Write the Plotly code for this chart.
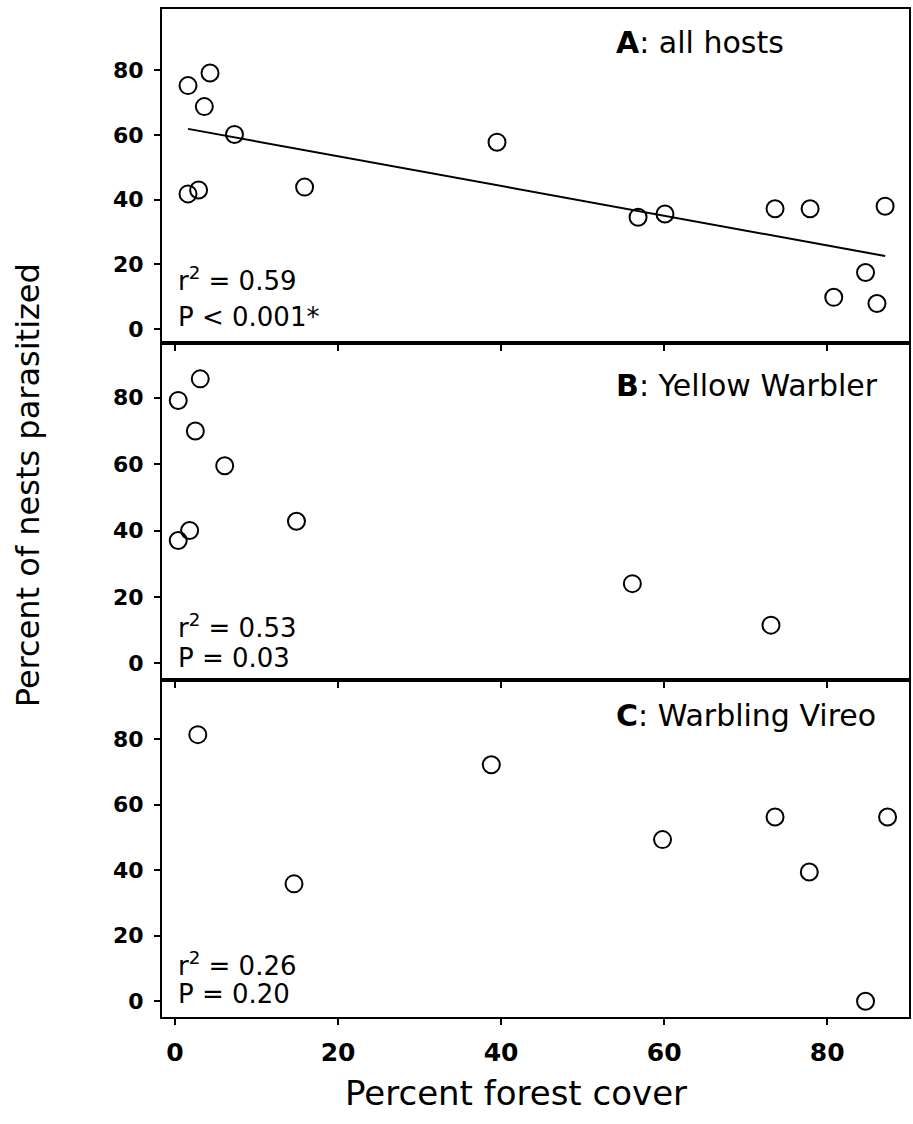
import numpy as np
import plotly.graph_objects as go
from plotly.subplots import make_subplots

# Panel A: all hosts
forest_all = [1.6, 4.3, 3.6, 7.3, 1.6, 2.9, 15.9, 39.5, 56.8, 60.1, 73.6, 77.9, 87.1, 84.7, 80.8, 86.1]
parasit_all = [75.3, 79.2, 68.8, 60.2, 41.8, 43.0, 43.9, 57.8, 34.6, 35.6, 37.2, 37.2, 38.0, 17.5, 9.8, 7.9]

# Panel B: Yellow Warbler
forest_yewa = [0.4, 3.1, 2.5, 6.1, 1.8, 0.4, 14.9, 56.1, 73.1]
parasit_yewa = [79.2, 85.7, 70.0, 59.5, 40.0, 37.0, 42.8, 24.0, 11.5]

# Panel C: Warbling Vireo
forest_wavi = [2.8, 14.6, 38.8, 59.8, 73.6, 77.8, 87.4, 84.7]
parasit_wavi = [81.3, 35.8, 72.1, 49.3, 56.2, 39.4, 56.2, 0.0]

panel_titles = ["<b>A</b>: all hosts", "<b>B</b>: Yellow Warbler", "<b>C</b>: Warbling Vireo"]
r2_labels = ["r<sup>2</sup> = 0.59", "r<sup>2</sup> = 0.53", "r<sup>2</sup> = 0.26"]
p_labels = ["P < 0.001*", "P = 0.03", "P = 0.20"]
tick_vals = [0, 20, 40, 60, 80]

FONT = "DejaVu Sans"

fig = make_subplots(rows=3, cols=1, vertical_spacing=0)

marker = dict(symbol="circle-open", size=17, color="black", line=dict(width=2, color="black"))
series = [(forest_all, parasit_all), (forest_yewa, parasit_yewa), (forest_wavi, parasit_wavi)]
for i, (xs, ys) in enumerate(series, start=1):
    fig.add_trace(go.Scatter(x=xs, y=ys, mode="markers", marker=marker,
                             showlegend=False, hoverinfo="x+y"), row=i, col=1)

# least-squares line for all hosts
slope, intercept = np.polyfit(forest_all, parasit_all, 1)
fit_x = np.array([min(forest_all), max(forest_all)])
fig.add_trace(go.Scatter(x=fit_x, y=intercept + slope * fit_x, mode="lines",
                         line=dict(color="black", width=2), showlegend=False,
                         hoverinfo="skip"), row=1, col=1)

H_TOTAL = 1008.0
y_domains = [[674 / H_TOTAL, 1.0], [337 / H_TOTAL, 674 / H_TOTAL], [0.0, 337 / H_TOTAL]]
y_ranges = [[-4.33, 99.0], [-5.03, 96.5], [-4.79, 97.96]]
x_range = [-1.59, 90.03]

for i in range(3):
    fig.update_xaxes(row=i + 1, col=1, range=x_range, domain=[0, 1],
                     showline=True, mirror=True, linecolor="black", linewidth=2,
                     ticks="outside", ticklen=6, tickwidth=1.5, tickcolor="black",
                     tickvals=tick_vals, showgrid=False, zeroline=False,
                     showticklabels=(i == 2), ticklabelstandoff=6,
                     tickfont=dict(family=FONT, size=25, color="black", weight="bold"))
    fig.update_yaxes(row=i + 1, col=1, range=y_ranges[i], domain=y_domains[i],
                     showline=True, mirror=True, linecolor="black", linewidth=2,
                     ticks="outside", ticklen=6, tickwidth=1.5, tickcolor="black",
                     tickvals=tick_vals, showgrid=False, zeroline=False,
                     ticklabelstandoff=6,
                     tickfont=dict(family=FONT, size=22, color="black", weight="bold"))

# annotation positions in each panel's data units
title_y = [88.6, 83.8, 87.2]
r2_y = [15.6, 11.2, 11.3]
p_y = [3.65, 1.6, 2.1]
axis_names = ["", "2", "3"]

for i in range(3):
    xr = "x" + axis_names[i]
    yr = "y" + axis_names[i]
    fig.add_annotation(x=53.8, y=title_y[i], xref=xr, yref=yr, text=panel_titles[i],
                       showarrow=False, xanchor="left", yanchor="middle",
                       font=dict(family=FONT, size=30, color="black"))
    fig.add_annotation(x=0.1, y=r2_y[i], xref=xr, yref=yr, text=r2_labels[i],
                       showarrow=False, xanchor="left", yanchor="middle",
                       font=dict(family=FONT, size=26, color="black"))
    fig.add_annotation(x=0.1, y=p_y[i], xref=xr, yref=yr, text=p_labels[i],
                       showarrow=False, xanchor="left", yanchor="middle",
                       font=dict(family=FONT, size=26, color="black"))

# axis titles
fig.add_annotation(x=-0.179, y=0.5278, xref="paper", yref="paper",
                   text="Percent of nests parasitized", textangle=-90,
                   showarrow=False, xanchor="center", yanchor="middle",
                   font=dict(family=FONT, size=32, color="black"))
fig.add_annotation(x=0.474, y=-0.0755, xref="paper", yref="paper",
                   text="Percent forest cover",
                   showarrow=False, xanchor="center", yanchor="middle",
                   font=dict(family=FONT, size=34, color="black"))

fig.update_layout(width=913, height=1124,
                  margin=dict(l=162, r=2, t=9, b=107),
                  paper_bgcolor="white", plot_bgcolor="white")

fig.write_html("out.html")
